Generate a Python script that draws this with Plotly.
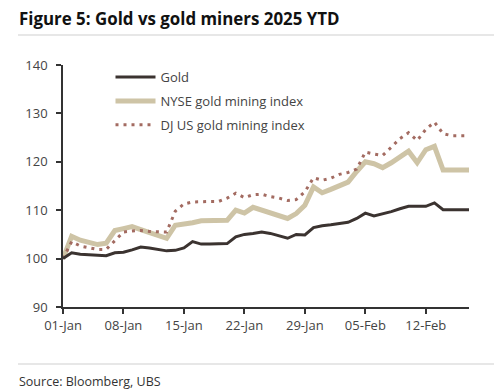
import plotly.graph_objects as go
import pandas as pd

dates = pd.date_range("2025-01-01", "2025-02-17", freq="D")

gold = [100.0, 101.2, 100.9, 100.8, 100.7, 100.6, 101.2, 101.3, 101.8, 102.4,
        102.2, 101.9, 101.6, 101.7, 102.2, 103.5, 103.0, 103.0, 103.1, 103.1,
        104.5, 105.0, 105.2, 105.5, 105.2, 104.7, 104.2, 105.0, 104.9, 106.4,
        106.8, 107.0, 107.2, 107.5, 108.3, 109.4, 108.8, 109.2, 109.7, 110.3,
        110.8, 110.8, 110.8, 111.5, 110.1, 110.1, 110.1, 110.1]

nyse = [100.0, 104.6, 103.8, 103.3, 102.9, 103.2, 105.8, 106.2, 106.6, 106.0,
        105.4, 104.8, 104.2, 106.9, 107.1, 107.4, 107.8, 107.8, 107.8, 107.9,
        110.0, 109.4, 110.6, 110.0, 109.3, 108.7, 108.3, 109.3, 111.0, 114.8,
        113.6, 114.3, 115.0, 115.8, 118.0, 120.0, 119.6, 118.8, 119.8, 121.0,
        122.2, 119.8, 122.5, 123.2, 118.3, 118.3, 118.3, 118.3]

djus = [100.0, 103.5, 102.6, 102.2, 101.9, 101.9, 103.6, 105.5, 105.7, 105.8,
        105.6, 105.6, 105.5, 109.8, 111.3, 111.7, 111.8, 111.8, 111.8, 112.5,
        113.5, 112.6, 113.2, 113.3, 112.8, 112.5, 112.0, 112.2, 113.8, 116.7,
        116.2, 116.6, 117.4, 117.8, 118.5, 122.0, 121.6, 121.3, 123.0, 124.8,
        126.0, 124.4, 126.7, 128.2, 125.8, 125.4, 125.4, 125.4]

series_names = ["Gold", "NYSE gold mining index", "DJ US gold mining index"]
x_ticks = ["2025-01-01", "2025-01-08", "2025-01-15", "2025-01-22",
           "2025-01-29", "2025-02-05", "2025-02-12"]
x_tick_labels = ["01-Jan", "08-Jan", "15-Jan", "22-Jan", "29-Jan", "05-Feb", "12-Feb"]
y_ticks = [90, 100, 110, 120, 130, 140]

FONT = "Open Sans"

# page body has an 8px margin: figure is 8px smaller and offsets are reduced by 8
W, H = 494, 384
PL, PR, PT, PB = 63, 469, 65, 307   # plot area in window pixels
pw, ph = PR - PL, PB - PT


def px(vx):
    return (vx - PL) / pw


def py(vy):
    return (PB - vy) / ph


fig = go.Figure()
fig.add_trace(go.Scatter(x=dates, y=nyse, name=series_names[1], mode="lines",
                         legendgroup="b", legendrank=2,
                         line=dict(color="#cec4a6", width=5)))
fig.add_trace(go.Scatter(x=dates, y=djus, name=series_names[2], mode="lines",
                         legendgroup="c", legendrank=3,
                         line=dict(color="#a36b61", width=3, dash="3px,5px")))
fig.add_trace(go.Scatter(x=dates, y=gold, name=series_names[0], mode="lines",
                         legendgroup="a", legendrank=1,
                         line=dict(color="#3b3330", width=3)))

fig.update_layout(
    width=W, height=H,
    margin=dict(l=PL - 8, r=W - (PR - 8), t=PT - 8, b=H - (PB - 8)),
    paper_bgcolor="white", plot_bgcolor="white",
    font=dict(family=FONT, size=13, color="#444"),
    showlegend=True,
    legend=dict(x=0.117, y=1.012, xanchor="left", yanchor="top",
                bgcolor="rgba(0,0,0,0)", font=dict(size=13, color="#444"),
                traceorder="grouped", tracegroupgap=4, itemwidth=40,
                indentation=0),
    xaxis=dict(type="date", range=["2025-01-01", "2025-02-17"],
               tickvals=x_ticks, ticktext=x_tick_labels,
               showgrid=False, zeroline=False,
               showline=True, linecolor="#333", linewidth=1.5,
               ticks="outside", ticklen=5, tickwidth=1.5, tickcolor="#333",
               tickfont=dict(size=13, color="#444"), ticklabelstandoff=1),
    yaxis=dict(range=[90, 140], tickvals=y_ticks,
               showgrid=False, zeroline=False,
               showline=True, linecolor="#333", linewidth=1.5,
               ticks="outside", ticklen=5, tickwidth=1.5, tickcolor="#333",
               tickfont=dict(size=13, color="#444"), ticklabelstandoff=6),
    annotations=[
        dict(text="<b>Figure 5: Gold vs gold miners 2025 YTD</b>",
             xref="paper", yref="paper", x=px(17), y=py(19),
             xanchor="left", yanchor="middle", showarrow=False,
             font=dict(family=FONT, size=16.9, color="#111")),
        dict(text="Source: Bloomberg, UBS",
             xref="paper", yref="paper", x=px(17), y=py(381),
             xanchor="left", yanchor="middle", showarrow=False,
             font=dict(family=FONT, size=12.5, color="#333")),
    ],
    shapes=[
        dict(type="line", xref="paper", yref="paper",
             x0=px(18), x1=px(502), y0=py(35), y1=py(35),
             line=dict(color="#cfcfcf", width=1.2)),
        dict(type="line", xref="paper", yref="paper",
             x0=px(18), x1=px(502), y0=py(364), y1=py(364),
             line=dict(color="#cfcfcf", width=1.2)),
    ],
)

fig.write_html("out.html")
